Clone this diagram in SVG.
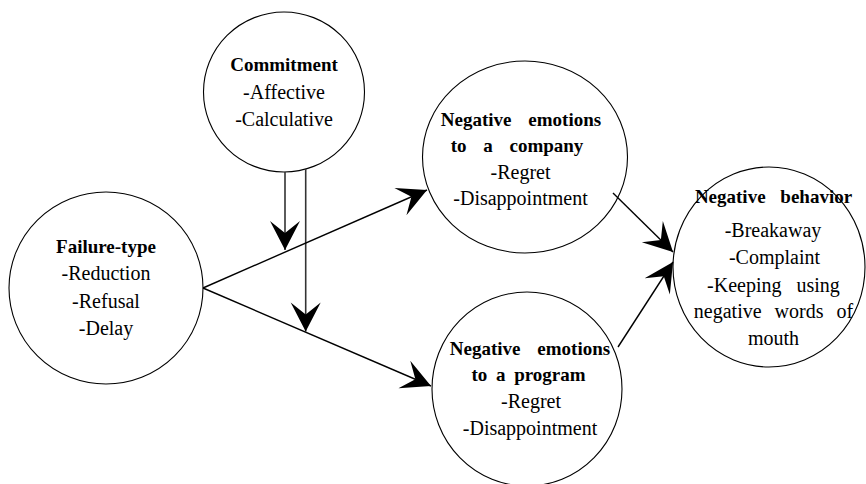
<svg xmlns="http://www.w3.org/2000/svg" width="866" height="484" viewBox="0 0 866 484">
<defs>
<marker id="arr" viewBox="-30 -16 31 32" markerWidth="31" markerHeight="32" refX="0" refY="0" orient="auto" markerUnits="userSpaceOnUse">
<path d="M0,0 L-29,-15 L-17,0 L-29,15 Z" fill="#000"/>
</marker>
</defs>
<style>
.node{fill:none;stroke:#000;stroke-width:1.1}
text{font-family:"Liberation Serif","Times New Roman",serif;fill:#000;text-anchor:middle}
.b{font-weight:bold;font-size:19px}
.r{font-size:20px}
.c{fill:none;stroke:#000;stroke-width:1.4;marker-end:url(#arr)}
.v{stroke:#333;stroke-width:1.6}
</style>
<rect width="866" height="484" fill="#fff"/>
<g id="commitment">
<ellipse class="node" cx="284" cy="92" rx="80.5" ry="80"/>
<text class="b" x="284" y="71">Commitment</text>
<text class="r" x="284" y="98.5">-Affective</text>
<text class="r" x="284" y="126">-Calculative</text>
</g>
<g id="failure">
<ellipse class="node" cx="106" cy="288" rx="97" ry="96"/>
<text class="b" x="106" y="253">Failure-type</text>
<text class="r" x="106" y="280">-Reduction</text>
<text class="r" x="106" y="308">-Refusal</text>
<text class="r" x="106" y="335">-Delay</text>
</g>
<g id="company">
<ellipse class="node" cx="525" cy="157" rx="102.5" ry="96"/>
<text class="b" x="521" y="126" word-spacing="12">Negative emotions</text>
<text class="b" x="517" y="152" word-spacing="12">to a company</text>
<text class="r" x="520.5" y="178.5">-Regret</text>
<text class="r" x="520.5" y="205">-Disappointment</text>
</g>
<g id="program">
<ellipse class="node" cx="527" cy="389" rx="95" ry="97"/>
<text class="b" x="530" y="355" word-spacing="12">Negative emotions</text>
<text class="b" x="528.5" y="381" word-spacing="4">to a program</text>
<text class="r" x="531" y="408">-Regret</text>
<text class="r" x="530" y="435">-Disappointment</text>
</g>
<g id="behavior">
<ellipse class="node" cx="769" cy="267" rx="96" ry="100"/>
<text class="b" x="773.5" y="203" word-spacing="10">Negative behavior</text>
<text class="r" x="773" y="237">-Breakaway</text>
<text class="r" x="774.5" y="264">-Complaint</text>
<text class="r" x="773.5" y="291.5" word-spacing="10">-Keeping using</text>
<text class="r" x="773.5" y="318" word-spacing="8">negative words of</text>
<text class="r" x="773.5" y="345">mouth</text>
</g>
<g id="connectors">
<line class="c v" x1="285" y1="172" x2="285" y2="250"/>
<line class="c v" x1="305.7" y1="169" x2="305.7" y2="331.5"/>
<line class="c" x1="203" y1="288" x2="427" y2="190"/>
<line class="c" x1="203" y1="288" x2="431" y2="386"/>
<line class="c" x1="613" y1="193" x2="673" y2="252"/>
<line class="c" x1="618" y1="347" x2="673" y2="262"/>
</g>
</svg>
